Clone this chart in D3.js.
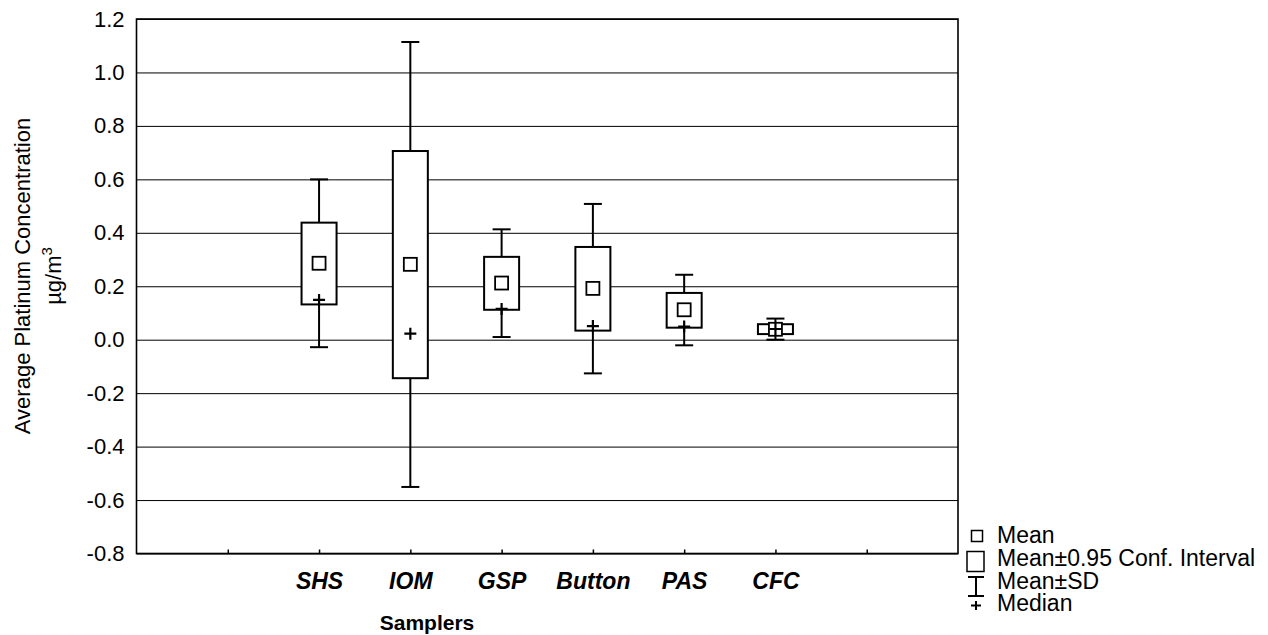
<!DOCTYPE html>
<html>
<head>
<meta charset="utf-8">
<script src="https://cdn.jsdelivr.net/npm/d3@7"></script>
<style>
  body { margin: 0; background: #fff; }
  svg { display: block; font-family: "Liberation Sans", Arial, sans-serif; }
</style>
</head>
<body>
<script>
// samplers and their summary stats
var samplers = ['SHS', 'IOM', 'GSP', 'Button', 'PAS', 'CFC'];
var means    = [0.286, 0.282, 0.212, 0.192, 0.112, 0.039];
var ciLow    = [0.132, -0.144, 0.112, 0.034, 0.045, 0.021];
var ciHigh   = [0.438, 0.706, 0.310, 0.347, 0.175, 0.058];
var sdLow    = [-0.028, -0.551, 0.010, -0.126, -0.021, 0.000];
var sdHigh   = [0.600, 1.114, 0.413, 0.508, 0.243, 0.079];
var medians  = [0.149, 0.0225, 0.115, 0.051, 0.049, 0.040];

var yTicks = [-0.8, -0.6, -0.4, -0.2, 0.0, 0.2, 0.4, 0.6, 0.8, 1.0, 1.2];
var xTicks = [1, 2, 3, 4, 5, 6, 7, 8];
var legendLabels = ['Mean', 'Mean\u00b10.95 Conf. Interval', 'Mean\u00b1SD', 'Median'];

var W = 1268, H = 635;
var plotL = 136.5, plotR = 958, plotT = 19, plotB = 553.5;

var svg = d3.select('body').append('svg')
  .attr('width', W)
  .attr('height', H);

var x = d3.scaleLinear().domain([0, 9]).range([plotL, plotR]);
var y = d3.scaleLinear().domain([-0.8, 1.2]).range([plotB, plotT]);

var data = samplers.map(function(name, i) {
  return {
    name: name, pos: i + 2, mean: means[i],
    ciLow: ciLow[i], ciHigh: ciHigh[i],
    sdLow: sdLow[i], sdHigh: sdHigh[i], median: medians[i]
  };
});

// gridlines + y labels
var yAxis = svg.append('g')
  .attr('transform', 'translate(' + plotL + ',0)')
  .call(d3.axisLeft(y).tickValues(yTicks)
    .tickSizeInner(-(plotR - plotL)).tickSizeOuter(0).tickPadding(12)
    .tickFormat(d3.format('.1f')));
yAxis.select('.domain').remove();
yAxis.selectAll('line').attr('stroke', '#000').attr('stroke-width', 1);
yAxis.selectAll('text')
  .attr('font-size', 22)
  .attr('font-family', '"Liberation Sans", Arial, sans-serif')
  .attr('fill', '#000')
  .text(function(d) { return d3.format('.1f')(d).replace('\u2212', '-'); });

// x axis with inner ticks
var xAxis = svg.append('g')
  .attr('transform', 'translate(0,' + plotB + ')')
  .call(d3.axisBottom(x).tickValues(xTicks)
    .tickSizeInner(-4).tickSizeOuter(0).tickPadding(19)
    .tickFormat(function(d) {
      var s = data.find(function(e) { return e.pos === d; });
      return s ? s.name : '';
    }));
xAxis.select('.domain').remove();
xAxis.selectAll('line').attr('stroke', '#000').attr('stroke-width', 1.5);
xAxis.selectAll('text')
  .attr('font-size', 23)
  .attr('font-weight', 'bold')
  .attr('font-style', 'italic')
  .attr('font-family', '"Liberation Sans", Arial, sans-serif')
  .attr('fill', '#000');

// frame
svg.append('rect')
  .attr('x', plotL).attr('y', plotT)
  .attr('width', plotR - plotL).attr('height', plotB - plotT)
  .attr('fill', 'none').attr('stroke', '#000').attr('stroke-width', 1.6);

var boxW = 35, capW = 18, sq = 13, plus = 12;

var g = svg.selectAll('.sampler').data(data).enter().append('g')
  .attr('class', 'sampler');

// SD whisker
g.append('line')
  .attr('x1', function(d) { return x(d.pos); })
  .attr('x2', function(d) { return x(d.pos); })
  .attr('y1', function(d) { return y(d.sdLow); })
  .attr('y2', function(d) { return y(d.sdHigh); })
  .attr('stroke', '#000').attr('stroke-width', 2);
['sdLow', 'sdHigh'].forEach(function(k) {
  g.append('line')
    .attr('x1', function(d) { return x(d.pos) - capW / 2; })
    .attr('x2', function(d) { return x(d.pos) + capW / 2; })
    .attr('y1', function(d) { return y(d[k]); })
    .attr('y2', function(d) { return y(d[k]); })
    .attr('stroke', '#000').attr('stroke-width', 2);
});

// confidence box
g.append('rect')
  .attr('x', function(d) { return x(d.pos) - boxW / 2; })
  .attr('y', function(d) { return y(d.ciHigh); })
  .attr('width', boxW)
  .attr('height', function(d) { return y(d.ciLow) - y(d.ciHigh); })
  .attr('fill', '#fff').attr('stroke', '#000').attr('stroke-width', 2);

// mean square
g.append('rect')
  .attr('x', function(d) { return x(d.pos) - sq / 2; })
  .attr('y', function(d) { return y(d.mean) - sq / 2; })
  .attr('width', sq).attr('height', sq)
  .attr('fill', '#fff').attr('stroke', '#000').attr('stroke-width', 1.8);

// median plus
g.append('path')
  .attr('d', function(d) {
    var cx = x(d.pos), cy = y(d.median), h = plus / 2;
    return 'M' + (cx - h) + ',' + cy + 'H' + (cx + h) +
      'M' + cx + ',' + (cy - h) + 'V' + (cy + h);
  })
  .attr('stroke', '#000').attr('stroke-width', 2.2).attr('fill', 'none');

// axis titles
svg.append('text')
  .attr('x', 427).attr('y', 630)
  .attr('text-anchor', 'middle')
  .attr('font-size', 21).attr('font-weight', 'bold')
  .text('Samplers');

var yt = svg.append('text')
  .attr('transform', 'translate(30,276) rotate(-90)')
  .attr('text-anchor', 'middle')
  .attr('font-size', 22);
yt.append('tspan').attr('x', 0).attr('y', 0).text('Average Platinum Concentration');
var yt2 = svg.append('text')
  .attr('transform', 'translate(61,276) rotate(-90)')
  .attr('text-anchor', 'middle')
  .attr('font-size', 22);
yt2.append('tspan').text('\u00b5g/m');
yt2.append('tspan').attr('font-size', 15).attr('dy', -9).text('3');

// legend
var lg = svg.append('g');
var lx = 997, ly = [543, 566, 588.5, 611];
lg.selectAll('text').data(legendLabels).enter().append('text')
  .attr('x', lx).attr('y', function(d, i) { return ly[i]; })
  .attr('font-size', 23)
  .text(function(d) { return d; });

lg.append('rect').attr('x', 971.5).attr('y', 530.5).attr('width', 11).attr('height', 11)
  .attr('fill', '#fff').attr('stroke', '#000').attr('stroke-width', 1.5);
lg.append('rect').attr('x', 967).attr('y', 551.5).attr('width', 17).attr('height', 20)
  .attr('fill', '#fff').attr('stroke', '#000').attr('stroke-width', 1.5);
lg.append('path')
  .attr('d', 'M968,577H984M976,577V596M968,596H984')
  .attr('stroke', '#000').attr('stroke-width', 2).attr('fill', 'none');
lg.append('path')
  .attr('d', 'M971,605.5H981M976,601V610')
  .attr('stroke', '#000').attr('stroke-width', 2).attr('fill', 'none');
</script>
</body>
</html>
